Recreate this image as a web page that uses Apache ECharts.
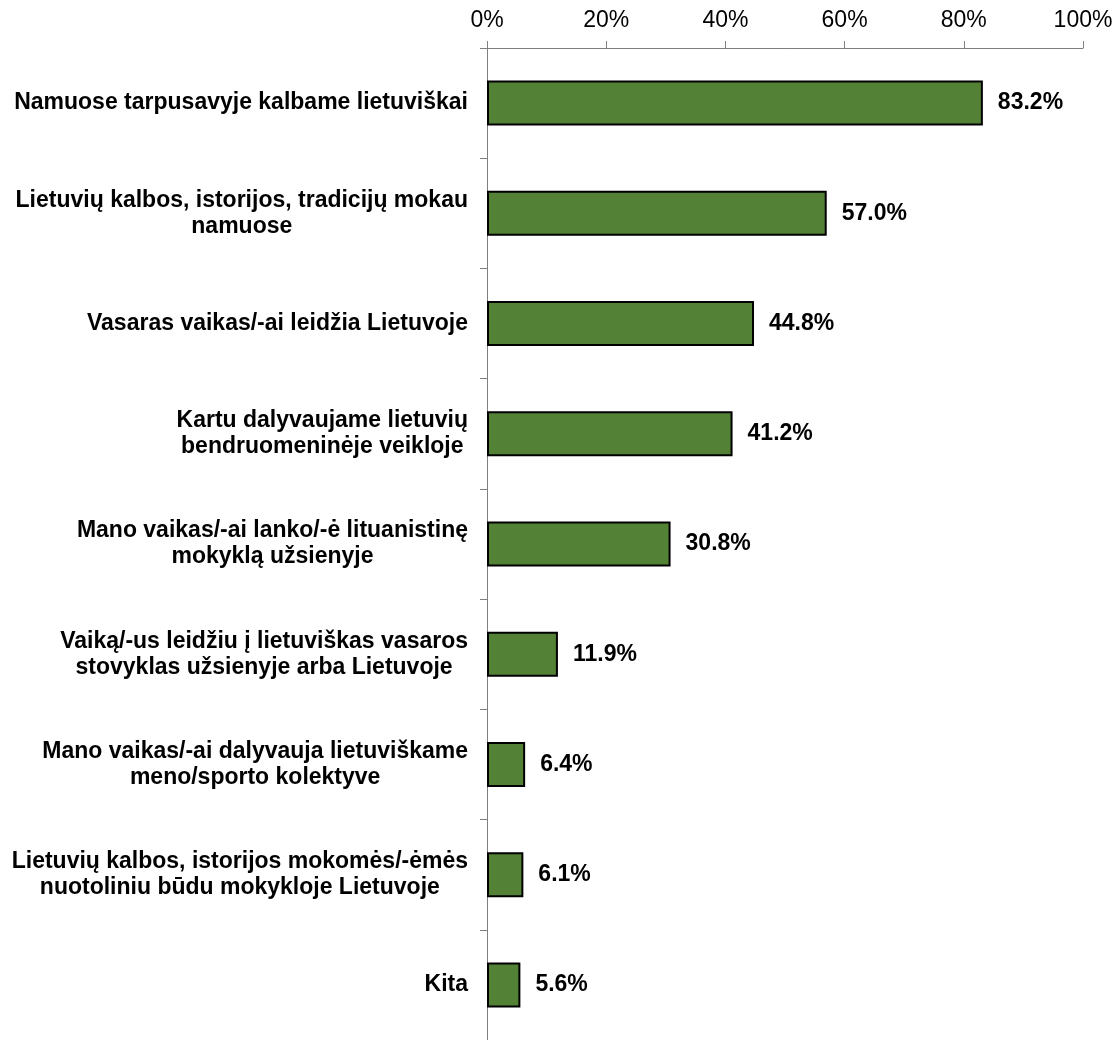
<!DOCTYPE html>
<html>
<head>
<meta charset="utf-8">
<script src="https://cdn.jsdelivr.net/npm/echarts@6/dist/echarts.min.js"></script>
<style>
  html, body { margin: 0; padding: 0; background: #fff; }
  #chart { width: 1118px; height: 1040px; }
</style>
</head>
<body>
<div id="chart"></div>
<script>
var categories = [
  'Namuose tarpusavyje kalbame lietuviškai',
  'Lietuvių kalbos, istorijos, tradicijų mokau\nnamuose',
  'Vasaras vaikas/-ai leidžia Lietuvoje',
  'Kartu dalyvaujame lietuvių\nbendruomeninėje veikloje',
  'Mano vaikas/-ai lanko/-ė lituanistinę\nmokyklą užsienyje',
  'Vaiką/-us leidžiu į lietuviškas vasaros\nstovyklas užsienyje arba Lietuvoje',
  'Mano vaikas/-ai dalyvauja lietuviškame\nmeno/sporto kolektyve',
  'Lietuvių kalbos, istorijos mokomės/-ėmės\nnuotoliniu būdu mokykloje Lietuvoje',
  'Kita'
];
var values = [83.2, 57.0, 44.8, 41.2, 30.8, 11.9, 6.4, 6.1, 5.6];

var chart = echarts.init(document.getElementById('chart'));

var option = {
  animation: false,
  textStyle: { fontFamily: 'Liberation Sans, Arial, sans-serif' },
  grid: { left: 487, right: 35, top: 48, height: 995, containLabel: false },
  xAxis: {
    type: 'value',
    position: 'top',
    min: 0,
    max: 100,
    interval: 20,
    axisLine: { show: true, lineStyle: { color: '#7f7f7f', width: 1 } },
    axisTick: { show: true, length: 7, lineStyle: { color: '#7f7f7f' } },
    axisLabel: {
      formatter: '{value}%',
      fontSize: 23,
      color: '#000',
      margin: 16
    },
    splitLine: { show: false }
  },
  yAxis: {
    type: 'category',
    inverse: true,
    data: categories,
    axisLine: { show: true, lineStyle: { color: '#7f7f7f', width: 1 } },
    axisTick: { show: true, length: 7, lineStyle: { color: '#7f7f7f' } },
    axisLabel: {
      margin: 19,
      color: '#000',
      formatter: function (v) { return '{c|' + v + '}'; },
      rich: {
        c: {
          align: 'center',
          fontSize: 23,
          fontWeight: 'bold',
          lineHeight: 26,
          color: '#000',
          fontFamily: 'Liberation Sans, Arial, sans-serif'
        }
      }
    }
  },
  series: [{
    type: 'bar',
    data: values,
    barWidth: 45,
    itemStyle: { color: '#538135', borderColor: '#000', borderWidth: 2 },
    label: {
      show: true,
      position: 'right',
      distance: 15,
      formatter: function (p) { return p.value.toFixed(1) + '%'; },
      fontSize: 23,
      fontWeight: 'bold',
      color: '#000'
    }
  }]
};

chart.setOption(option);
</script>
</body>
</html>
